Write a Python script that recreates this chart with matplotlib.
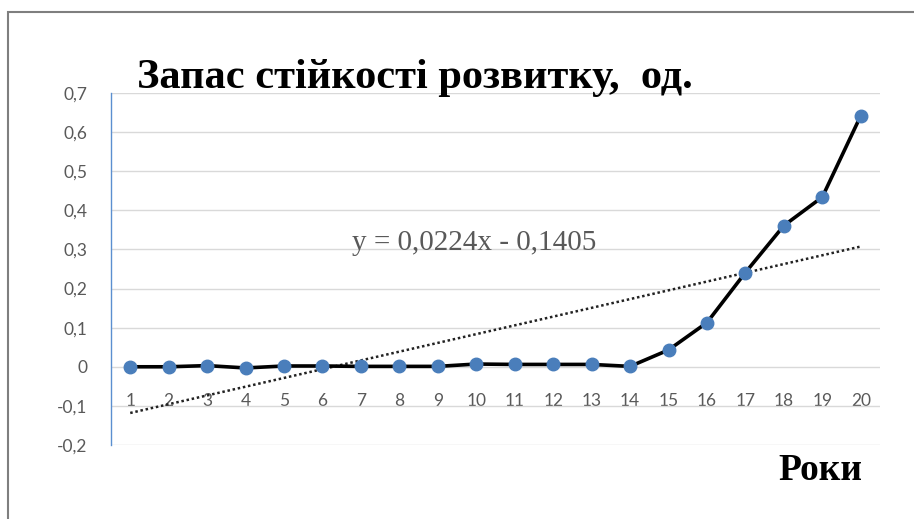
import matplotlib
matplotlib.use("Agg")
import matplotlib.pyplot as plt
import numpy as np
from matplotlib.patches import Rectangle

# data
years = list(range(1, 21))
reserve = [0.0, 0.0, 0.003, -0.003, 0.002, 0.002, 0.001, 0.001, 0.001, 0.007,
           0.006, 0.006, 0.006, 0.001, 0.043, 0.113, 0.241, 0.361, 0.434, 0.642]
trend_k = 0.0224
trend_b = -0.1405
y_ticks = [-0.2, -0.1, 0, 0.1, 0.2, 0.3, 0.4, 0.5, 0.6, 0.7]
y_labels = ["-0,2", "-0,1", "0", "0,1", "0,2", "0,3", "0,4", "0,5", "0,6", "0,7"]

W, H = 914, 519
fig = plt.figure(figsize=(W / 100, H / 100), dpi=100)
ax = fig.add_axes([111 / W, 1 - 445 / H, (880 - 111) / W, (445 - 93) / H])

# outer frame
fig.patches.append(Rectangle((8 / W, 1 - 525 / H), 1.0, (525 - 12) / H,
                             transform=fig.transFigure, fill=False,
                             edgecolor="#7f7f7f", lw=1.5))

ax.set_xlim(0.5, 20.5)
ax.set_ylim(-0.2, 0.7)
ax.set_yticks(y_ticks)
ax.set_yticklabels(y_labels)
ax.yaxis.grid(True, color="#d9d9d9", lw=1)
ax.set_axisbelow(True)

for s in ["top", "right"]:
    ax.spines[s].set_visible(False)
ax.spines["left"].set_color("#5b8fd0")
ax.spines["left"].set_linewidth(1)
ax.spines["bottom"].set_position(("data", 0))
ax.spines["bottom"].set_visible(False)

ax.set_xticks(years)
ax.set_xticklabels([str(y) for y in years])
ax.tick_params(axis="x", length=0, pad=19, labelsize=12.5, labelcolor="#595959")
ax.tick_params(axis="y", length=0, pad=17, labelsize=12.5, labelcolor="#595959")
for lab in ax.get_xticklabels() + ax.get_yticklabels():
    lab.set_family("Lato")

# linear trend (dotted)
xt = np.array([years[0], years[-1]])
ax.plot(xt, trend_k * xt + trend_b, ls=(0, (1, 1.1)), color="#222222", lw=1.8)

ax.plot(years, reserve, color="black", lw=2.6, marker="o", markersize=9,
        markerfacecolor="#4a7ebb", markeredgecolor="#4a7ebb", zorder=3)

ax.text(6.77, 0.299, "y = 0,0224x - 0,1405", fontsize=21,
        family="Liberation Serif", color="#595959")

fig.text(137 / W, 1 - 88 / H, "Запас стійкості розвитку,  од.", fontsize=30.5,
         family="Liberation Serif", weight="bold", ha="left", va="baseline")
fig.text(862 / W, 1 - 480 / H, "Роки", fontsize=27, family="Liberation Serif",
         weight="bold", ha="right", va="baseline")

fig.savefig("out.png", dpi=100)
